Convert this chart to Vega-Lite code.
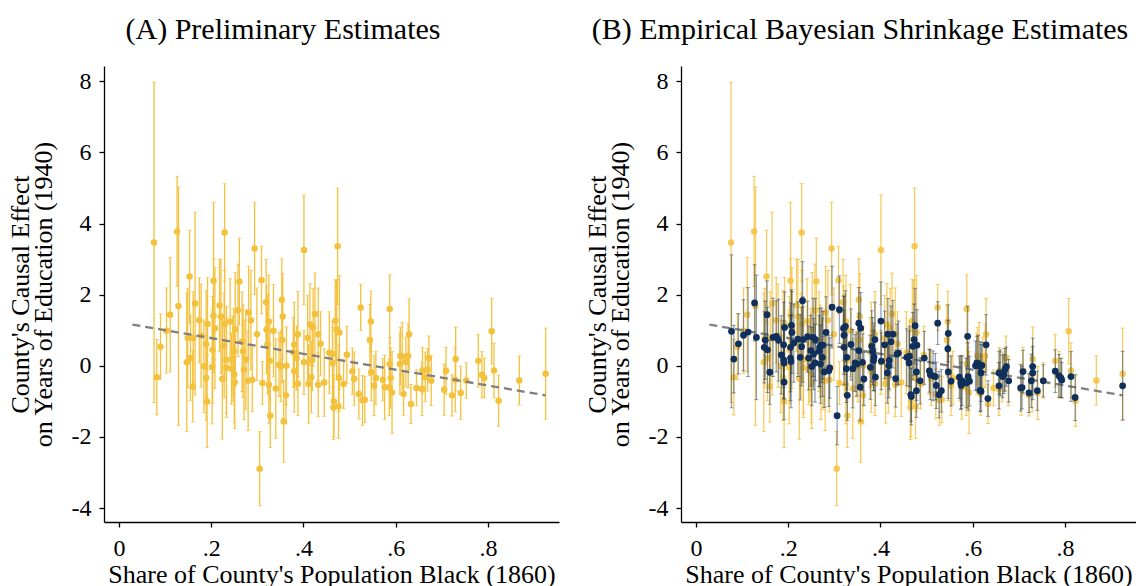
{
"$schema": "https://vega.github.io/schema/vega-lite/v6.json",
"background": "white",
"padding": {"left": 7, "top": 15, "right": 0, "bottom": 0},
"config": {
  "font": "Liberation Serif",
  "view": {"stroke": null},
  "axis": {"grid": false, "domainColor": "#000", "tickColor": "#000", "labelColor": "#000", "titleColor": "#000", "labelFont": "Liberation Serif", "titleFont": "Liberation Serif", "labelFontSize": 24, "titleFontSize": 26, "titleFontWeight": "normal", "tickSize": 5, "domainWidth": 1.3, "tickWidth": 1.3},
  "axisY": {"titlePadding": 15, "labelPadding": 8, "titleLineHeight": 23},
  "axisX": {"titlePadding": 1, "labelPadding": 9},
  "title": {"font": "Liberation Serif", "fontSize": 30, "fontWeight": "normal", "color": "#000", "anchor": "middle", "frame": "bounds", "offset": 21},
  "concat": {"spacing": 25}
},
"datasets": {
"fit": [{"x": 0.029, "y": 1.16}, {"x": 0.925, "y": -0.83}],
"prelim": [
{"x":0.076,"y":3.47,"lo":-1.03,"hi":7.97},{"x":0.082,"y":-0.32,"lo":-1.38,"hi":0.74},{"x":0.090,"y":0.54,"lo":-0.38,"hi":1.46},{"x":0.103,"y":0.99,"lo":-0.21,"hi":2.19},{"x":0.111,"y":1.44,"lo":-0.17,"hi":3.05},{"x":0.126,"y":3.78,"lo":2.23,"hi":5.33},{"x":0.129,"y":1.68,"lo":-1.67,"hi":5.03},{"x":0.147,"y":0.10,"lo":-1.85,"hi":2.05},{"x":0.153,"y":2.51,"lo":1.21,"hi":3.81},{"x":0.149,"y":0.78,"lo":-0.62,"hi":2.18},
{"x":0.155,"y":0.22,"lo":-0.98,"hi":1.42},{"x":0.160,"y":-0.58,"lo":-1.58,"hi":0.42},{"x":0.165,"y":1.75,"lo":-0.82,"hi":4.32},{"x":0.161,"y":0.78,"lo":-0.52,"hi":2.08},{"x":0.174,"y":1.28,"lo":0.08,"hi":2.48},{"x":0.184,"y":-0.01,"lo":-1.31,"hi":1.29},{"x":0.189,"y":0.61,"lo":-0.89,"hi":2.11},{"x":0.189,"y":-0.34,"lo":-1.54,"hi":0.86},{"x":0.191,"y":-1.00,"lo":-2.30,"hi":0.30},{"x":0.192,"y":1.18,"lo":-0.12,"hi":2.48},
{"x":0.205,"y":2.39,"lo":0.19,"hi":4.59},{"x":0.205,"y":1.41,"lo":-0.19,"hi":3.01},{"x":0.208,"y":1.06,"lo":-0.64,"hi":2.76},{"x":0.203,"y":0.45,"lo":-1.05,"hi":1.95},{"x":0.202,"y":-0.03,"lo":-1.63,"hi":1.57},{"x":0.218,"y":1.70,"lo":0.40,"hi":3.00},{"x":0.221,"y":1.39,"lo":-0.21,"hi":2.99},{"x":0.224,"y":-0.36,"lo":-2.06,"hi":1.34},{"x":0.229,"y":3.75,"lo":2.38,"hi":5.12},{"x":0.229,"y":1.18,"lo":-0.32,"hi":2.68},
{"x":0.233,"y":0.17,"lo":-1.33,"hi":1.67},{"x":0.233,"y":-0.05,"lo":-1.45,"hi":1.35},{"x":0.241,"y":1.25,"lo":0.05,"hi":2.45},{"x":0.244,"y":-0.08,"lo":-1.08,"hi":0.92},{"x":0.249,"y":0.41,"lo":-0.79,"hi":1.61},{"x":0.252,"y":1.02,"lo":-0.58,"hi":2.62},{"x":0.258,"y":1.56,"lo":0.26,"hi":2.86},{"x":0.261,"y":2.37,"lo":1.15,"hi":3.59},{"x":0.247,"y":0.20,"lo":-1.00,"hi":1.40},{"x":0.251,"y":-0.46,"lo":-1.76,"hi":0.84},
{"x":0.267,"y":0.68,"lo":-0.72,"hi":2.08},{"x":0.269,"y":0.41,"lo":-0.89,"hi":1.71},{"x":0.271,"y":-0.11,"lo":-1.51,"hi":1.29},{"x":0.275,"y":0.17,"lo":-1.23,"hi":1.57},{"x":0.281,"y":1.50,"lo":0.20,"hi":2.80},{"x":0.286,"y":1.28,"lo":-0.12,"hi":2.68},{"x":0.280,"y":-0.42,"lo":-1.82,"hi":0.98},{"x":0.289,"y":-0.39,"lo":-1.29,"hi":0.51},{"x":0.294,"y":3.30,"lo":2.00,"hi":4.60},{"x":0.299,"y":0.89,"lo":-0.41,"hi":2.19},
{"x":0.305,"y":-2.89,"lo":-3.93,"hi":-1.85},{"x":0.309,"y":2.41,"lo":1.46,"hi":3.36},{"x":0.311,"y":-0.48,"lo":-1.08,"hi":0.12},{"x":0.319,"y":1.79,"lo":0.59,"hi":2.99},{"x":0.322,"y":0.61,"lo":-0.79,"hi":2.01},{"x":0.325,"y":1.25,"lo":-0.05,"hi":2.55},{"x":0.327,"y":0.14,"lo":-0.96,"hi":1.24},{"x":0.325,"y":-0.53,"lo":-1.63,"hi":0.57},{"x":0.328,"y":-1.40,"lo":-2.30,"hi":-0.50},{"x":0.335,"y":0.99,"lo":-0.31,"hi":2.29},
{"x":0.340,"y":-0.64,"lo":-2.04,"hi":0.76},{"x":0.347,"y":0.03,"lo":-0.87,"hi":0.93},{"x":0.353,"y":1.86,"lo":0.71,"hi":3.01},{"x":0.354,"y":0.73,"lo":-0.47,"hi":1.93},{"x":0.355,"y":1.39,"lo":0.19,"hi":2.59},{"x":0.357,"y":-1.56,"lo":-2.71,"hi":-0.41},{"x":0.362,"y":-0.83,"lo":-1.63,"hi":-0.03},{"x":0.351,"y":-0.01,"lo":-1.01,"hi":0.99},{"x":0.380,"y":0.59,"lo":-0.61,"hi":1.79},{"x":0.380,"y":-0.15,"lo":-1.30,"hi":1.00},
{"x":0.385,"y":0.22,"lo":-0.68,"hi":1.12},{"x":0.388,"y":0.89,"lo":-0.31,"hi":2.09},{"x":0.388,"y":-0.50,"lo":-1.40,"hi":0.40},{"x":0.401,"y":3.26,"lo":1.72,"hi":4.80},{"x":0.401,"y":0.10,"lo":-0.80,"hi":1.00},{"x":0.409,"y":0.78,"lo":-0.42,"hi":1.98},{"x":0.411,"y":-0.51,"lo":-1.61,"hi":0.59},{"x":0.414,"y":1.16,"lo":0.01,"hi":2.31},{"x":0.417,"y":-0.32,"lo":-1.32,"hi":0.68},{"x":0.421,"y":1.08,"lo":-0.02,"hi":2.18},
{"x":0.425,"y":1.46,"lo":0.31,"hi":2.61},{"x":0.432,"y":0.89,"lo":-0.41,"hi":2.19},{"x":0.432,"y":-0.53,"lo":-1.43,"hi":0.37},{"x":0.437,"y":0.62,"lo":-0.28,"hi":1.52},{"x":0.445,"y":-0.47,"lo":-1.42,"hi":0.48},{"x":0.456,"y":0.37,"lo":-0.78,"hi":1.52},{"x":0.463,"y":0.08,"lo":-0.92,"hi":1.08},{"x":0.466,"y":-1.00,"lo":-2.00,"hi":0.00},{"x":0.465,"y":-1.17,"lo":-2.07,"hi":-0.27},{"x":0.469,"y":1.27,"lo":0.12,"hi":2.42},
{"x":0.474,"y":3.36,"lo":1.72,"hi":5.00},{"x":0.472,"y":1.02,"lo":-0.38,"hi":2.42},{"x":0.478,"y":0.94,"lo":-0.66,"hi":2.54},{"x":0.477,"y":-0.34,"lo":-1.29,"hi":0.61},{"x":0.476,"y":-1.14,"lo":-2.04,"hi":-0.24},{"x":0.487,"y":-0.51,"lo":-1.21,"hi":0.19},{"x":0.494,"y":0.31,"lo":-0.49,"hi":1.11},{"x":0.506,"y":-0.15,"lo":-0.80,"hi":0.50},{"x":0.510,"y":-0.36,"lo":-1.11,"hi":0.39},{"x":0.520,"y":-0.79,"lo":-1.49,"hi":-0.09},
{"x":0.524,"y":1.64,"lo":0.99,"hi":2.29},{"x":0.528,"y":-0.97,"lo":-1.67,"hi":-0.27},{"x":0.533,"y":-0.95,"lo":-1.60,"hi":-0.30},{"x":0.546,"y":1.25,"lo":0.40,"hi":2.10},{"x":0.544,"y":0.73,"lo":-0.27,"hi":1.73},{"x":0.547,"y":-0.18,"lo":-0.98,"hi":0.62},{"x":0.553,"y":-0.55,"lo":-1.40,"hi":0.30},{"x":0.557,"y":-0.34,"lo":-1.09,"hi":0.41},{"x":0.572,"y":-0.39,"lo":-0.99,"hi":0.21},{"x":0.576,"y":-0.60,"lo":-1.50,"hi":0.30},
{"x":0.587,"y":1.60,"lo":0.64,"hi":2.56},{"x":0.587,"y":0.05,"lo":-0.70,"hi":0.80},{"x":0.589,"y":-0.34,"lo":-1.19,"hi":0.51},{"x":0.592,"y":-0.75,"lo":-1.90,"hi":0.40},{"x":0.586,"y":-0.60,"lo":-1.40,"hi":0.20},{"x":0.610,"y":0.28,"lo":-0.52,"hi":1.08},{"x":0.609,"y":0.05,"lo":-0.80,"hi":0.90},{"x":0.614,"y":0.27,"lo":-0.68,"hi":1.22},{"x":0.617,"y":-0.79,"lo":-1.39,"hi":-0.19},{"x":0.622,"y":0.11,"lo":-0.59,"hi":0.81},
{"x":0.627,"y":0.28,"lo":-0.62,"hi":1.18},{"x":0.629,"y":0.89,"lo":-0.11,"hi":1.89},{"x":0.633,"y":-1.07,"lo":-1.62,"hi":-0.52},{"x":0.645,"y":-0.62,"lo":-1.12,"hi":-0.12},{"x":0.657,"y":-0.65,"lo":-1.40,"hi":0.10},{"x":0.658,"y":-0.13,"lo":-0.78,"hi":0.52},{"x":0.664,"y":-0.31,"lo":-1.01,"hi":0.39},{"x":0.669,"y":-0.11,"lo":-0.71,"hi":0.49},{"x":0.672,"y":0.22,"lo":-0.40,"hi":0.84},{"x":0.677,"y":-0.42,"lo":-1.12,"hi":0.28},
{"x":0.705,"y":-0.67,"lo":-1.39,"hi":0.05},{"x":0.709,"y":-0.14,"lo":-0.80,"hi":0.52},{"x":0.722,"y":-0.83,"lo":-1.41,"hi":-0.25},{"x":0.729,"y":-0.39,"lo":-1.29,"hi":0.51},{"x":0.730,"y":0.19,"lo":-0.71,"hi":1.09},{"x":0.741,"y":-0.76,"lo":-1.51,"hi":-0.01},{"x":0.753,"y":-0.41,"lo":-0.91,"hi":0.09},{"x":0.779,"y":0.14,"lo":-0.60,"hi":0.88},{"x":0.787,"y":-0.25,"lo":-0.90,"hi":0.40},{"x":0.792,"y":-0.34,"lo":-0.90,"hi":0.22},
{"x":0.808,"y":0.97,"lo":0.05,"hi":1.89},{"x":0.813,"y":-0.13,"lo":-0.90,"hi":0.64},{"x":0.823,"y":-0.98,"lo":-1.70,"hi":-0.26},{"x":0.868,"y":-0.41,"lo":-1.10,"hi":0.28},{"x":0.925,"y":-0.22,"lo":-1.50,"hi":1.06},{"x":0.178,"y":0.85,"lo":-0.60,"hi":2.30},{"x":0.228,"y":0.57,"lo":-0.90,"hi":2.04},{"x":0.250,"y":-0.25,"lo":-1.60,"hi":1.10},{"x":0.320,"y":1.02,"lo":-0.20,"hi":2.24},{"x":0.378,"y":0.38,"lo":-0.60,"hi":1.36},
{"x":0.419,"y":0.17,"lo":-0.70,"hi":1.04},{"x":0.363,"y":0.00,"lo":-1.10,"hi":1.10},{"x":0.463,"y":0.33,"lo":-0.60,"hi":1.26}
],
"shrink": [
{"x":0.077,"y":0.97,"lo":-1.18,"hi":3.12},{"x":0.082,"y":0.19,"lo":-0.76,"hi":1.14},{"x":0.092,"y":0.62,"lo":-0.23,"hi":1.47},{"x":0.103,"y":0.86,"lo":-0.14,"hi":1.86},{"x":0.113,"y":0.95,"lo":-0.30,"hi":2.20},{"x":0.127,"y":1.77,"lo":0.70,"hi":2.84},{"x":0.131,"y":0.80,"lo":-0.95,"hi":2.55},{"x":0.154,"y":1.44,"lo":0.49,"hi":2.39},{"x":0.150,"y":0.72,"lo":-0.38,"hi":1.82},{"x":0.148,"y":0.52,"lo":-0.48,"hi":1.52},
{"x":0.155,"y":0.45,"lo":-0.75,"hi":1.65},{"x":0.160,"y":-0.18,"lo":-1.08,"hi":0.72},{"x":0.167,"y":0.80,"lo":-0.30,"hi":1.90},{"x":0.174,"y":0.83,"lo":-0.17,"hi":1.83},{"x":0.179,"y":0.72,"lo":-0.43,"hi":1.87},{"x":0.185,"y":0.31,"lo":-0.79,"hi":1.41},{"x":0.190,"y":0.59,"lo":-0.61,"hi":1.79},{"x":0.192,"y":1.08,"lo":0.08,"hi":2.08},{"x":0.190,"y":0.17,"lo":-0.93,"hi":1.27},{"x":0.191,"y":0.08,"lo":-0.92,"hi":1.08},
{"x":0.191,"y":-0.46,"lo":-1.51,"hi":0.59},{"x":0.207,"y":1.14,"lo":0.14,"hi":2.14},{"x":0.205,"y":0.52,"lo":-0.73,"hi":1.77},{"x":0.208,"y":0.94,"lo":-0.21,"hi":2.09},{"x":0.205,"y":0.22,"lo":-0.98,"hi":1.42},{"x":0.206,"y":0.12,"lo":-1.18,"hi":1.42},{"x":0.212,"y":0.64,"lo":-0.46,"hi":1.74},{"x":0.221,"y":0.75,"lo":-0.30,"hi":1.80},{"x":0.226,"y":0.24,"lo":-0.96,"hi":1.44},{"x":0.229,"y":0.54,"lo":-0.56,"hi":1.64},
{"x":0.231,"y":1.83,"lo":0.73,"hi":2.93},{"x":0.232,"y":0.74,"lo":-0.46,"hi":1.94},{"x":0.242,"y":0.82,"lo":-0.18,"hi":1.82},{"x":0.244,"y":0.22,"lo":-0.68,"hi":1.12},{"x":0.249,"y":0.43,"lo":-0.57,"hi":1.43},{"x":0.251,"y":-0.02,"lo":-1.12,"hi":1.08},{"x":0.254,"y":0.80,"lo":-0.30,"hi":1.90},{"x":0.255,"y":0.33,"lo":-0.67,"hi":1.33},{"x":0.259,"y":0.74,"lo":-0.41,"hi":1.89},{"x":0.258,"y":0.08,"lo":-1.02,"hi":1.18},
{"x":0.268,"y":0.52,"lo":-0.58,"hi":1.62},{"x":0.267,"y":0.41,"lo":-0.59,"hi":1.41},{"x":0.272,"y":0.58,"lo":-0.47,"hi":1.63},{"x":0.274,"y":0.24,"lo":-0.86,"hi":1.34},{"x":0.275,"y":0.58,"lo":-0.37,"hi":1.53},{"x":0.270,"y":0.05,"lo":-1.05,"hi":1.15},{"x":0.282,"y":0.94,"lo":-0.06,"hi":1.94},{"x":0.278,"y":-0.17,"lo":-1.17,"hi":0.83},{"x":0.288,"y":-0.14,"lo":-1.14,"hi":0.86},{"x":0.290,"y":-0.06,"lo":-0.91,"hi":0.79},
{"x":0.295,"y":1.65,"lo":0.50,"hi":2.80},{"x":0.311,"y":1.58,"lo":0.63,"hi":2.53},{"x":0.306,"y":-1.40,"lo":-2.22,"hi":-0.58},{"x":0.320,"y":1.06,"lo":0.16,"hi":1.96},{"x":0.324,"y":1.11,"lo":0.11,"hi":2.11},{"x":0.321,"y":0.86,"lo":-0.24,"hi":1.96},{"x":0.321,"y":0.52,"lo":-0.53,"hi":1.57},{"x":0.326,"y":-0.08,"lo":-1.03,"hi":0.87},{"x":0.327,"y":0.24,"lo":-0.66,"hi":1.14},{"x":0.328,"y":-0.83,"lo":-1.53,"hi":-0.13},
{"x":0.336,"y":0.60,"lo":-0.40,"hi":1.60},{"x":0.340,"y":-0.08,"lo":-1.18,"hi":1.02},{"x":0.345,"y":0.08,"lo":-0.72,"hi":0.88},{"x":0.349,"y":0.05,"lo":-0.85,"hi":0.95},{"x":0.353,"y":1.20,"lo":0.20,"hi":2.20},{"x":0.357,"y":1.06,"lo":0.06,"hi":2.06},{"x":0.353,"y":0.43,"lo":-0.62,"hi":1.48},{"x":0.356,"y":-0.60,"lo":-1.55,"hi":0.35},{"x":0.361,"y":0.10,"lo":-0.70,"hi":0.90},{"x":0.364,"y":-0.37,"lo":-1.12,"hi":0.38},
{"x":0.378,"y":-0.04,"lo":-0.94,"hi":0.86},{"x":0.381,"y":0.55,"lo":-0.45,"hi":1.55},{"x":0.383,"y":0.41,"lo":-0.54,"hi":1.36},{"x":0.385,"y":0.15,"lo":-0.70,"hi":1.00},{"x":0.386,"y":0.25,"lo":-0.70,"hi":1.20},{"x":0.389,"y":-0.32,"lo":-1.12,"hi":0.48},{"x":0.388,"y":0.74,"lo":-0.31,"hi":1.79},{"x":0.401,"y":1.26,"lo":0.16,"hi":2.36},{"x":0.402,"y":0.13,"lo":-0.67,"hi":0.93},{"x":0.409,"y":0.59,"lo":-0.36,"hi":1.54},
{"x":0.415,"y":-0.20,"lo":-1.05,"hi":0.65},{"x":0.416,"y":0.89,"lo":-0.11,"hi":1.89},{"x":0.418,"y":0.00,"lo":-0.90,"hi":0.90},{"x":0.419,"y":0.15,"lo":-0.65,"hi":0.95},{"x":0.423,"y":0.68,"lo":-0.32,"hi":1.68},{"x":0.427,"y":0.89,"lo":-0.06,"hi":1.84},{"x":0.433,"y":-0.36,"lo":-1.16,"hi":0.44},{"x":0.436,"y":0.33,"lo":-0.52,"hi":1.18},{"x":0.439,"y":0.36,"lo":-0.54,"hi":1.26},{"x":0.457,"y":0.24,"lo":-0.56,"hi":1.04},
{"x":0.463,"y":0.27,"lo":-0.58,"hi":1.12},{"x":0.462,"y":0.08,"lo":-0.82,"hi":0.98},{"x":0.466,"y":-0.81,"lo":-1.56,"hi":-0.06},{"x":0.467,"y":-0.86,"lo":-1.66,"hi":-0.06},{"x":0.470,"y":0.55,"lo":-0.40,"hi":1.50},{"x":0.473,"y":0.74,"lo":-0.26,"hi":1.74},{"x":0.475,"y":1.13,"lo":0.08,"hi":2.18},{"x":0.478,"y":-0.17,"lo":-0.97,"hi":0.63},{"x":0.478,"y":-0.70,"lo":-1.45,"hi":0.05},{"x":0.479,"y":0.58,"lo":-0.42,"hi":1.58},
{"x":0.486,"y":-0.42,"lo":-1.07,"hi":0.23},{"x":0.495,"y":0.22,"lo":-0.53,"hi":0.97},{"x":0.506,"y":-0.14,"lo":-0.74,"hi":0.46},{"x":0.508,"y":-0.25,"lo":-0.95,"hi":0.45},{"x":0.514,"y":-0.28,"lo":-0.98,"hi":0.42},{"x":0.519,"y":-0.30,"lo":-0.95,"hi":0.35},{"x":0.521,"y":-0.55,"lo":-1.20,"hi":0.10},{"x":0.527,"y":-0.81,"lo":-1.46,"hi":-0.16},{"x":0.532,"y":-0.70,"lo":-1.30,"hi":-0.10},{"x":0.524,"y":1.20,"lo":0.60,"hi":1.80},
{"x":0.546,"y":0.48,"lo":-0.32,"hi":1.28},{"x":0.547,"y":0.91,"lo":0.11,"hi":1.71},{"x":0.547,"y":-0.17,"lo":-0.92,"hi":0.58},{"x":0.553,"y":-0.43,"lo":-1.13,"hi":0.27},{"x":0.571,"y":-0.32,"lo":-0.92,"hi":0.28},{"x":0.574,"y":-0.48,"lo":-1.23,"hi":0.27},{"x":0.575,"y":-0.55,"lo":-1.20,"hi":0.10},{"x":0.577,"y":-0.42,"lo":-1.12,"hi":0.28},{"x":0.586,"y":-0.48,"lo":-1.18,"hi":0.22},{"x":0.589,"y":0.83,"lo":-0.02,"hi":1.68},
{"x":0.590,"y":-0.30,"lo":-1.25,"hi":0.65},{"x":0.593,"y":-0.43,"lo":-1.13,"hi":0.27},{"x":0.606,"y":0.00,"lo":-0.70,"hi":0.70},{"x":0.609,"y":0.08,"lo":-0.67,"hi":0.83},{"x":0.612,"y":0.06,"lo":-0.74,"hi":0.86},{"x":0.616,"y":-0.02,"lo":-0.72,"hi":0.68},{"x":0.618,"y":-0.20,"lo":-1.00,"hi":0.60},{"x":0.616,"y":-0.69,"lo":-1.29,"hi":-0.09},{"x":0.618,"y":-0.72,"lo":-1.27,"hi":-0.17},{"x":0.629,"y":0.59,"lo":-0.26,"hi":1.44},
{"x":0.633,"y":-0.92,"lo":-1.42,"hi":-0.42},{"x":0.620,"y":0.01,"lo":-0.64,"hi":0.66},{"x":0.657,"y":-0.56,"lo":-1.21,"hi":0.09},{"x":0.657,"y":-0.20,"lo":-0.80,"hi":0.40},{"x":0.660,"y":-0.20,"lo":-0.85,"hi":0.45},{"x":0.665,"y":-0.30,"lo":-0.90,"hi":0.30},{"x":0.668,"y":-0.23,"lo":-0.78,"hi":0.32},{"x":0.670,"y":-0.11,"lo":-0.71,"hi":0.49},{"x":0.673,"y":-0.02,"lo":-0.57,"hi":0.53},{"x":0.678,"y":-0.42,"lo":-1.02,"hi":0.18},
{"x":0.704,"y":-0.62,"lo":-1.27,"hi":0.03},{"x":0.707,"y":-0.61,"lo":-1.21,"hi":-0.01},{"x":0.709,"y":-0.16,"lo":-0.76,"hi":0.44},{"x":0.722,"y":-0.76,"lo":-1.31,"hi":-0.21},{"x":0.727,"y":-0.42,"lo":-1.17,"hi":0.33},{"x":0.730,"y":-0.02,"lo":-0.82,"hi":0.78},{"x":0.730,"y":-0.20,"lo":-0.95,"hi":0.55},{"x":0.740,"y":-0.70,"lo":-1.25,"hi":-0.15},{"x":0.753,"y":-0.42,"lo":-0.87,"hi":0.03},{"x":0.779,"y":-0.15,"lo":-0.75,"hi":0.45},
{"x":0.787,"y":-0.28,"lo":-0.88,"hi":0.32},{"x":0.791,"y":-0.34,"lo":-0.89,"hi":0.21},{"x":0.793,"y":-0.40,"lo":-0.90,"hi":0.10},{"x":0.813,"y":-0.30,"lo":-1.00,"hi":0.40},{"x":0.822,"y":-0.89,"lo":-1.54,"hi":-0.24},{"x":0.925,"y":-0.56,"lo":-1.53,"hi":0.41}
]
},
"hconcat": [
{
  "width": 455, "height": 456,
  "title": "(A) Preliminary Estimates",
  "encoding": {
    "x": {"field": "x", "type": "quantitative", "scale": {"domain": [-0.0325, 0.954], "nice": false, "zero": false}, "axis": {"values": [0, 0.2, 0.4, 0.6, 0.8], "labelExpr": "datum.value == 0 ? '0' : replace('' + datum.value, '0.', '.')", "title": "Share of County's Population Black (1860)"}}
  },
  "layer": [
    {"data": {"name": "prelim"}, "mark": {"type": "rule", "color": "#F4C13D", "strokeWidth": 1.3},
     "encoding": {"y": {"field": "lo", "type": "quantitative", "scale": {"domain": [-4.39, 8.43], "nice": false, "zero": false}, "axis": {"values": [-4, -2, 0, 2, 4, 6, 8], "labelExpr": "'' + datum.value", "title": ["County's  Causal Effect", "on Years of Education (1940)"]}}, "y2": {"field": "hi"}}},
    {"data": {"name": "prelim"}, "mark": {"type": "tick", "orient": "horizontal", "size": 4, "thickness": 1, "color": "#F4C13D"},
     "encoding": {"y": {"field": "lo", "type": "quantitative", "scale": {"domain": [-4.39, 8.43], "nice": false, "zero": false}, "axis": {"values": [-4, -2, 0, 2, 4, 6, 8], "labelExpr": "'' + datum.value", "title": ["County's  Causal Effect", "on Years of Education (1940)"]}}}},
    {"data": {"name": "prelim"}, "mark": {"type": "tick", "orient": "horizontal", "size": 4, "thickness": 1, "color": "#F4C13D"},
     "encoding": {"y": {"field": "hi", "type": "quantitative", "scale": {"domain": [-4.39, 8.43], "nice": false, "zero": false}, "axis": {"values": [-4, -2, 0, 2, 4, 6, 8], "labelExpr": "'' + datum.value", "title": ["County's  Causal Effect", "on Years of Education (1940)"]}}}},
    {"data": {"name": "prelim"}, "mark": {"type": "circle", "size": 42, "color": "#F4C13D", "opacity": 1},
     "encoding": {"y": {"field": "y", "type": "quantitative", "scale": {"domain": [-4.39, 8.43], "nice": false, "zero": false}, "axis": {"values": [-4, -2, 0, 2, 4, 6, 8], "labelExpr": "'' + datum.value", "title": ["County's  Causal Effect", "on Years of Education (1940)"]}}}},
    {"data": {"name": "fit"}, "mark": {"type": "line", "color": "#7f7f7f", "strokeWidth": 2.3, "strokeDash": [8, 5]},
     "encoding": {"y": {"field": "y", "type": "quantitative", "scale": {"domain": [-4.39, 8.43], "nice": false, "zero": false}, "axis": {"values": [-4, -2, 0, 2, 4, 6, 8], "labelExpr": "'' + datum.value", "title": ["County's  Causal Effect", "on Years of Education (1940)"]}}}}
  ]
},
{
  "width": 455, "height": 456,
  "title": "(B) Empirical Bayesian Shrinkage Estimates",
  "encoding": {
    "x": {"field": "x", "type": "quantitative", "scale": {"domain": [-0.0325, 0.954], "nice": false, "zero": false}, "axis": {"values": [0, 0.2, 0.4, 0.6, 0.8], "labelExpr": "datum.value == 0 ? '0' : replace('' + datum.value, '0.', '.')", "title": "Share of County's Population Black (1860)"}}
  },
  "layer": [
    {"data": {"name": "prelim"}, "mark": {"type": "rule", "color": "#F4C13D", "strokeWidth": 1.3, "opacity": 0.8},
     "encoding": {"y": {"field": "lo", "type": "quantitative", "scale": {"domain": [-4.39, 8.43], "nice": false, "zero": false}, "axis": {"values": [-4, -2, 0, 2, 4, 6, 8], "labelExpr": "'' + datum.value", "title": ["County's  Causal Effect", "on Years of Education (1940)"]}}, "y2": {"field": "hi"}}},
    {"data": {"name": "prelim"}, "mark": {"type": "tick", "orient": "horizontal", "size": 4, "thickness": 1, "color": "#F4C13D", "opacity": 0.8},
     "encoding": {"y": {"field": "lo", "type": "quantitative", "scale": {"domain": [-4.39, 8.43], "nice": false, "zero": false}, "axis": {"values": [-4, -2, 0, 2, 4, 6, 8], "labelExpr": "'' + datum.value", "title": ["County's  Causal Effect", "on Years of Education (1940)"]}}}},
    {"data": {"name": "prelim"}, "mark": {"type": "tick", "orient": "horizontal", "size": 4, "thickness": 1, "color": "#F4C13D", "opacity": 0.8},
     "encoding": {"y": {"field": "hi", "type": "quantitative", "scale": {"domain": [-4.39, 8.43], "nice": false, "zero": false}, "axis": {"values": [-4, -2, 0, 2, 4, 6, 8], "labelExpr": "'' + datum.value", "title": ["County's  Causal Effect", "on Years of Education (1940)"]}}}},
    {"data": {"name": "prelim"}, "mark": {"type": "circle", "size": 42, "color": "#F4C13D", "opacity": 0.85},
     "encoding": {"y": {"field": "y", "type": "quantitative", "scale": {"domain": [-4.39, 8.43], "nice": false, "zero": false}, "axis": {"values": [-4, -2, 0, 2, 4, 6, 8], "labelExpr": "'' + datum.value", "title": ["County's  Causal Effect", "on Years of Education (1940)"]}}}},
    {"data": {"name": "fit"}, "mark": {"type": "line", "color": "#7f7f7f", "strokeWidth": 2.3, "strokeDash": [8, 5]},
     "encoding": {"y": {"field": "y", "type": "quantitative", "scale": {"domain": [-4.39, 8.43], "nice": false, "zero": false}, "axis": {"values": [-4, -2, 0, 2, 4, 6, 8], "labelExpr": "'' + datum.value", "title": ["County's  Causal Effect", "on Years of Education (1940)"]}}}},
    {"data": {"name": "shrink"}, "mark": {"type": "rule", "color": "#0F2F5C", "strokeWidth": 1.3, "opacity": 0.45},
     "encoding": {"y": {"field": "lo", "type": "quantitative", "scale": {"domain": [-4.39, 8.43], "nice": false, "zero": false}, "axis": {"values": [-4, -2, 0, 2, 4, 6, 8], "labelExpr": "'' + datum.value", "title": ["County's  Causal Effect", "on Years of Education (1940)"]}}, "y2": {"field": "hi"}}},
    {"data": {"name": "shrink"}, "mark": {"type": "tick", "orient": "horizontal", "size": 4, "thickness": 1, "color": "#0F2F5C", "opacity": 0.45},
     "encoding": {"y": {"field": "lo", "type": "quantitative", "scale": {"domain": [-4.39, 8.43], "nice": false, "zero": false}, "axis": {"values": [-4, -2, 0, 2, 4, 6, 8], "labelExpr": "'' + datum.value", "title": ["County's  Causal Effect", "on Years of Education (1940)"]}}}},
    {"data": {"name": "shrink"}, "mark": {"type": "tick", "orient": "horizontal", "size": 4, "thickness": 1, "color": "#0F2F5C", "opacity": 0.45},
     "encoding": {"y": {"field": "hi", "type": "quantitative", "scale": {"domain": [-4.39, 8.43], "nice": false, "zero": false}, "axis": {"values": [-4, -2, 0, 2, 4, 6, 8], "labelExpr": "'' + datum.value", "title": ["County's  Causal Effect", "on Years of Education (1940)"]}}}},
    {"data": {"name": "shrink"}, "mark": {"type": "circle", "size": 46, "color": "#0F2F5C", "opacity": 1},
     "encoding": {"y": {"field": "y", "type": "quantitative", "scale": {"domain": [-4.39, 8.43], "nice": false, "zero": false}, "axis": {"values": [-4, -2, 0, 2, 4, 6, 8], "labelExpr": "'' + datum.value", "title": ["County's  Causal Effect", "on Years of Education (1940)"]}}}}
  ]
}
]
}
